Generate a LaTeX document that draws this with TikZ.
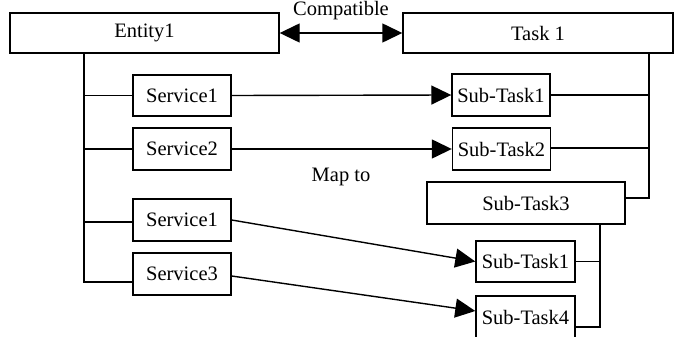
\documentclass[tikz,border=0pt]{standalone}
\usepackage{fontspec}
\setmainfont{Liberation Serif}
\usetikzlibrary{arrows.meta}
\begin{document}
\begin{tikzpicture}[x=1pt,y=-1pt,
  box/.style={draw,line width=1.4pt,rectangle,inner sep=0pt,anchor=center,font=\fontsize{20.5}{24}\selectfont},
  lbl/.style={inner sep=0pt,anchor=center,font=\fontsize{20.5}{24}\selectfont},
  ln/.style={line width=1.4pt},
  arr/.style={line width=1.4pt,-{Triangle[length=20pt,width=19pt]}},
  darr/.style={line width=1.4pt,{Triangle[length=20pt,width=19pt]}-{Triangle[length=20pt,width=19pt]}}]
\useasboundingbox (0,0) rectangle (678,337);
\node[box,minimum width=269pt,minimum height=40pt] (e) at (144.5,33) {Entity1};
\node[box,minimum width=270pt,minimum height=40pt] (t) at (538,33) {Task 1};
\node[box,minimum width=98pt,minimum height=41pt] (s1) at (182,95.5) {Service1};
\node[box,minimum width=98pt,minimum height=42pt] (s2) at (182,149) {Service2};
\node[box,minimum width=98pt,minimum height=42pt] (s1b) at (182,220) {Service1};
\node[box,minimum width=98pt,minimum height=42pt] (s3) at (182,274) {Service3};
\node[box,minimum width=98pt,minimum height=42pt] (st1) at (501,95) {Sub-Task1};
\node[box,minimum width=98pt,minimum height=42pt] (st2) at (501.5,149) {Sub-Task2};
\node[box,minimum width=198pt,minimum height=42pt] (st3) at (526,203) {Sub-Task3};
\node[box,minimum width=99pt,minimum height=41pt] (st1b) at (525.5,261.5) {Sub-Task1};
\node[box,minimum width=99pt,minimum height=42pt] (st4) at (525.5,317) {Sub-Task4};
\node[lbl] (comp) at (341,11) {Compatible};
\node[lbl] (map) at (341,177) {Map to};
\coordinate (ebus) at (84,282);
\coordinate (tbus) at (649,198);
\coordinate (sbus) at (600,327);
% Entity1 tree
\draw[ln] (e.south -| ebus) -- (ebus) -- (ebus -| s3.west);
\draw[ln] (s1.west) -- (s1.west -| ebus);
\draw[ln] (s2.west) -- (s2.west -| ebus);
\draw[ln] ([yshift=-2pt]s1b.west) -- ([yshift=-2pt]s1b.west -| ebus);
% Task1 tree
\draw[ln] (t.south -| tbus) -- (tbus) -- (tbus -| st3.east);
\draw[ln] (st1.east) -- (st1.east -| tbus);
\draw[ln] ([yshift=1pt]st2.east) -- ([yshift=1pt]st2.east -| tbus);
% Sub-Task3 tree
\draw[ln] (st3.south -| sbus) -- (sbus) -- (sbus -| st4.east);
\draw[ln] (st1b.east) -- (st1b.east -| sbus);
% arrows
\draw[darr] (e.east) -- (t.west);
\draw[arr] (s1.east) -- (st1.west);
\draw[arr] (s2.east) -- (st2.west);
\draw[arr] (s1b.east) -- (st1b.west);
\draw[arr] ([yshift=-2pt]s3.east) -- ([yshift=6pt]st4.west);
\end{tikzpicture}
\end{document}
